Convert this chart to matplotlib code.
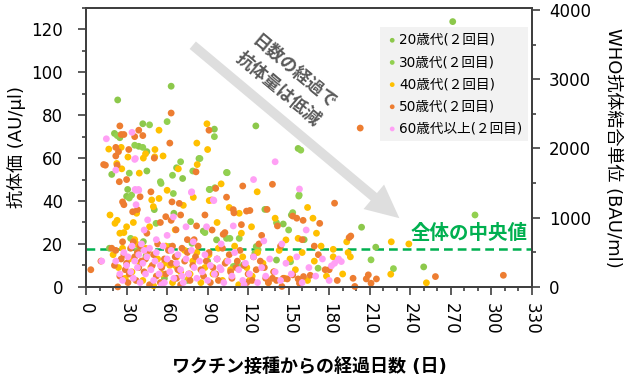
import numpy as np
import matplotlib
matplotlib.use("Agg")
import matplotlib.pyplot as plt
from matplotlib.ticker import MultipleLocator

plt.rcParams['font.family'] = ['DejaVu Sans', 'Noto Sans CJK JP']

# (days since vaccination, antibody titer AU/ul)
pts20 = [(23.4, 87.1), (63, 93.5), (42, 76), (95, 73.5), (21, 71.5), (25, 69.5), (39, 65.5),
         (45, 63), (19, 52.4), (45, 54), (30, 42.2), (50.5, 36), (71.5, 50.5), (125.7, 75),
         (157, 64.5), (83.6, 59.8), (104, 53.3), (67, 55.5), (30.8, 45.4), (65, 34.3),
         (91.7, 45.4), (132.4, 36.1), (146, 29.3), (86.8, 26), (96.6, 21.9), (126, 18.8),
         (111.4, 10.2), (141, 12.5), (17.3, 18), (44.4, 14.4), (67.8, 8.7), (271.5, 123.6),
         (204, 27.8), (214.5, 18.5), (250, 9.3), (161.5, 22), (42.4, 21.1), (152, 33.5),
         (58, 4), (90, 12)]

pts30 = [(60, 77), (47, 75.5), (95, 70), (23, 70.5), (36, 66), (42, 65), (32, 53), (55.5, 48.2),
         (32, 41.4), (64.6, 43.5), (70, 58.3), (64, 52), (55, 49), (79, 54), (84.3, 59.8),
         (104.5, 53.2), (91.2, 45.4), (95.4, 46.2), (141, 29.9), (150, 26.5), (153, 34.6),
         (88, 25.3), (104, 22.6), (106.5, 22.6), (113.4, 22.6), (127.4, 17.3), (125, 15.8),
         (116.4, 10.2), (151.4, 11.7), (109, 9.5), (77.4, 30.4), (33, 22.6), (51.8, 29.6),
         (61.6, 18.8), (78.4, 20.3), (33.7, 42.8), (157.8, 42.8), (159, 63.7), (171.8, 8.7),
         (288, 33.5), (227.6, 8.5), (211, 12.6), (157.5, 42.3), (38, 17), (75, 3)]

pts40 = [(54, 73), (89.5, 76), (82, 67), (90, 64), (16.8, 64.2), (26, 65), (44, 62), (51, 64),
         (57, 61), (31, 60.5), (39.4, 53), (54, 41.2), (82.3, 57), (68.3, 55), (22.7, 57.5),
         (26.4, 55), (42.4, 60), (50.8, 60.6), (17.7, 33.5), (21.4, 29.6), (23, 31), (25, 25),
         (28, 25.3), (48.6, 40.5), (49.8, 37.4), (37.4, 34.3), (79.4, 41.7), (91.2, 40.2),
         (92.9, 40.5), (113.4, 34.3), (122.5, 28), (115, 25), (126.7, 44.3), (148, 21.9),
         (164, 37), (168, 32), (170.6, 25), (157, 22.6), (193, 21), (183, 17.5), (195.7, 14),
         (226, 21), (239, 20), (225.6, 5.9), (252, 1.9), (47, 28), (66, 26.6), (35, 30),
         (30, 28), (60, 45), (100, 48), (140, 32), (106, 37), (72, 38), (97, 30),
         (20, 15), (24, 9), (27, 18), (29, 4), (32, 13), (34, 7), (37, 20), (40, 11), (42, 3),
         (45, 16), (48, 9), (50, 0.5), (53, 13), (56, 6), (59, 19), (62, 10), (64, 2), (67, 14),
         (70, 7), (73, 17), (76, 4), (79, 12), (82, 16), (85, 2), (88, 9), (91, 15), (94, 6),
         (98, 18), (101, 3), (104, 12), (107, 8), (110, 19), (113, 1), (116, 14), (119, 9),
         (123, 5), (127, 16), (131, 11), (135, 2), (139, 7), (143, 17), (147, 4), (151, 13),
         (155, 8), (160, 16), (164, 3), (169, 12), (174, 19), (178, 5), (183, 14), (190, 6),
         (194, 16), (36, 22), (58, 11), (77, 6), (121, 3), (44, 18), (66, 10)]

pts50 = [(63, 81), (25, 75), (39, 73), (42, 70.5), (36, 70), (28, 71), (26, 71), (22, 65),
         (24, 63), (31.6, 64), (62, 67), (91, 73), (13, 57), (14.3, 56.7), (22, 61), (23, 56.7),
         (24.6, 49), (48, 44.3), (27, 39.6), (28, 38.3), (34.5, 35), (38, 36), (63.6, 39.6),
         (69, 38.9), (70, 33.5), (59, 32.7), (63, 31), (66.6, 26.6), (75, 22), (80, 22),
         (81.4, 53.6), (50.5, 60), (116, 47), (138, 47.8), (96, 45.9), (104, 41.8), (109, 36),
         (109.5, 34.5), (118.8, 35.3), (121.3, 35.6), (134, 36.1), (88, 33.5), (81.8, 28.4),
         (102.8, 25.3), (101.5, 24.5), (93.3, 26.5), (141.7, 28.4), (184, 39), (203, 74),
         (160.7, 31), (173, 29.6), (194.8, 23), (196, 23.7), (153, 33), (156, 32), (30, 50),
         (40, 42), (55, 30), (45, 25), (115, 29), (130, 24), (160, 22),
         (3.5, 8), (11, 12), (19, 18), (21, 10), (22, 17), (23.5, 0), (25, 5), (26, 13),
         (27, 21), (29, 8), (28, 15), (31, 2), (30, 11), (33, 18), (32, 6), (36, 14), (35, 21),
         (37, 3), (39, 9), (38, 16), (41, 12), (40, 19), (43, 7), (44, 13), (47, 1), (46, 17),
         (49, 10), (52, 5), (50, 15), (53, 20), (56, 9), (55, 2), (58, 13), (61, 17), (59, 6),
         (63, 11), (64, 19), (67, 4), (66, 14), (68, 8), (71, 18), (70, 1), (73, 12), (76, 6),
         (75, 16), (79, 10), (77, 3), (81, 14), (85, 8), (83, 19), (87, 5), (89, 12), (92, 2),
         (91, 16), (94, 9), (97, 13), (96, 6), (101, 18), (98, 3), (103, 11), (107, 7),
         (106, 15), (108, 4), (112, 12), (111, 9), (114, 17), (119, 2), (117, 10), (120, 6),
         (124, 14), (123, 3), (126, 8), (129, 12), (133, 4), (132, 9), (135, 2), (139, 7),
         (138, 4), (141, 3), (146, 4), (145, 0.2), (149, 3.7), (153, 5.6), (158, 1.7),
         (157, 3.7), (161, 4.8), (166, 5.4), (172, 15), (177, 8), (186, 3), (197.7, 4),
         (199, 0.2), (207.5, 3.7), (209, 5.6), (211, 1.7), (215, 3.7), (258.7, 4.8),
         (309, 5.4), (169, 19), (180, 8), (144, 19), (128, 20)]

pts60 = [(15, 69), (34, 72), (36.5, 59.8), (36, 59.4), (22, 54.4), (37, 45), (39, 45),
         (36.3, 45.4), (38.8, 45.4), (37, 38.3), (45.6, 31.2), (43, 26.5), (74, 28), (140, 58.3),
         (124, 50), (158, 45.6), (78, 44), (94.2, 40.5), (163, 26.5), (64.6, 32.6), (79.4, 21),
         (89.2, 28), (109, 28.4), (131.6, 21.4), (78.2, 44.3), (94.6, 40.2), (11.6, 12),
         (189, 11.8), (186.6, 12.6), (181.7, 9.8), (52, 22), (100, 20), (145, 20), (60, 24),
         (22, 12), (25, 6), (27, 3), (28, 16), (30, 10), (31, 14), (33, 7), (34, 19), (35, 4),
         (36, 12), (38, 9), (39, 15), (40, 2), (41, 20), (42, 11), (44, 6), (45, 14), (47, 18),
         (48, 8), (50, 3), (51, 12), (52, 16), (54, 6), (55, 10), (57, 19), (58, 2), (60, 13),
         (62, 7), (63, 17), (65, 4), (67, 11), (68, 15), (70, 8), (72, 2), (74, 13), (76, 6),
         (78, 17), (80, 9), (82, 4), (84, 12), (86, 7), (88, 15), (90, 3), (92, 10), (95, 6),
         (97, 13), (100, 8), (102, 2), (105, 12), (108, 5), (110, 16), (113, 8), (116, 3),
         (118, 11), (121, 6), (124, 14), (127, 2), (130, 9), (133, 5), (136, 13), (140, 7),
         (144, 3), (148, 11), (152, 6), (156, 14), (160, 2), (165, 9), (170, 5), (175, 13),
         (180, 3), (184, 11), (187, 13), (43, 17), (56, 1), (71, 5), (99, 9), (117, 1)]

labels = ["20歳代(２回目)", "30歳代(２回目)", "40歳代(２回目)", "50歳代(２回目)", "60歳代以上(２回目)"]
colors = ["#8cc84b", "#92d050", "#ffc000", "#ed7d31", "#ffa0f5"]

median_au = 17.7
bau_per_au = 31.0

fig = plt.figure(figsize=(6.33, 3.75), dpi=100)
ax = fig.add_axes([0.136, 0.235, 0.704, 0.744])

for label, pts, c in zip(labels, [pts20, pts30, pts40, pts50, pts60], colors):
    d = [p[0] for p in pts]
    v = [p[1] for p in pts]
    ax.scatter(d, v, s=24, color=c, edgecolors='none', label=label, clip_on=False, zorder=3)

ax.set_xlim(0, 330)
ax.set_ylim(0, 130)
ax.xaxis.set_major_locator(MultipleLocator(30))
ax.xaxis.set_minor_locator(MultipleLocator(10))
ax.yaxis.set_major_locator(MultipleLocator(20))
ax.yaxis.set_minor_locator(MultipleLocator(10))

# median line and label
ax.axhline(median_au, color='#00b050', lw=1.8, ls=(0, (3.5, 2)), zorder=2)
ax.text(327, 25, "全体の中央値", color='#00b050', fontsize=14, fontweight='bold',
        ha='right', va='center', family=['Noto Sans CJK JP'])

# trend arrow
ax.annotate("", xy=(232, 32), xytext=(79, 112.6),
            arrowprops=dict(arrowstyle="simple,head_length=2.4,head_width=2.3,tail_width=0.7",
                            mutation_scale=10, color='#dedede', lw=0, shrinkA=0, shrinkB=0),
            zorder=1)
ax.text(148, 96, "日数の経過で\n抗体量は低減", rotation=-40, rotation_mode='anchor',
        ha='center', va='center', fontsize=12.5, fontweight='bold', color='#595959',
        linespacing=1.35, family=['Noto Sans CJK JP'], zorder=4)

ax.set_xlabel("ワクチン接種からの経過日数 (日)", fontsize=13, fontweight='bold', labelpad=17)
ax.set_ylabel("抗体価 (AU/μl)", fontsize=13, labelpad=4)

ax2 = ax.twinx()
ax2.set_ylim(0, 130 * bau_per_au)
ax2.yaxis.set_major_locator(MultipleLocator(1000))
ax2.yaxis.set_minor_locator(MultipleLocator(500))
ax2.set_ylabel("WHO抗体結合単位 (BAU/ml)", fontsize=13, rotation=-90, labelpad=22)

for a in (ax, ax2):
    for sp in a.spines.values():
        sp.set_linewidth(1.4)
        sp.set_color('#404040')
    a.tick_params(which='major', direction='out', length=5.5, width=1.2, color='#404040',
                  labelsize=12)
    a.tick_params(which='minor', direction='out', length=3, width=1.2, color='#404040')

ax.tick_params(axis='y', which='major', pad=11)
ax.tick_params(axis='x', which='major', pad=6)
ax2.tick_params(axis='y', which='major', pad=7)

for t in ax.get_xticklabels():
    t.set_rotation(-90)

leg = ax.legend(loc='upper right', bbox_to_anchor=(0.991, 0.93), borderaxespad=0,
                fontsize=9.8, frameon=True, fancybox=False, facecolor='#f2f2f2',
                edgecolor='none', framealpha=1, handletextpad=0.0, handlelength=1.0,
                labelspacing=0.6, markerscale=0.7, scatterpoints=1)

fig.savefig("out.png", dpi=100)
